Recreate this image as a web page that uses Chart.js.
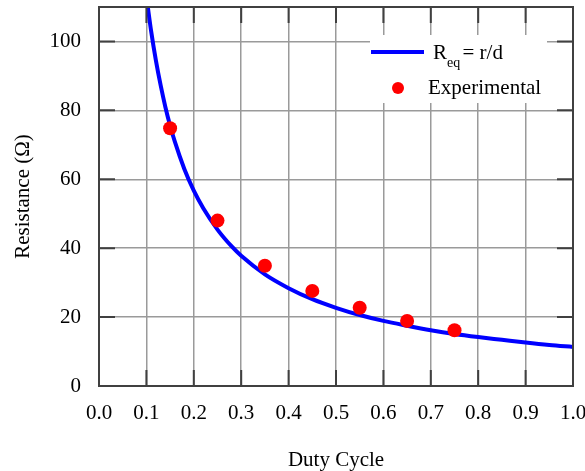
<!DOCTYPE html>
<html>
<head>
<meta charset="utf-8">
<script src="https://cdn.jsdelivr.net/npm/chart.js@4.4.1/dist/chart.umd.min.js"></script>
<style>
  html, body { margin: 0; padding: 0; background: #fff; }
  #wrap { width: 585px; height: 471px; position: relative; }
</style>
</head>
<body>
<div id="wrap"><canvas id="myChart" width="585" height="471"></canvas></div>
<script>
// experimental points
var dutyExp = [0.15, 0.25, 0.35, 0.45, 0.55, 0.65, 0.75];
var resExp = [74.8, 48.0, 34.9, 27.6, 22.7, 18.9, 16.2];

// model curve Req = r/d
var dutyFit = [0.102, 0.11, 0.12, 0.13, 0.14, 0.15, 0.16, 0.18, 0.2, 0.22, 0.25, 0.28, 0.3, 0.35,
               0.4, 0.45, 0.5, 0.55, 0.6, 0.65, 0.7, 0.75, 0.8, 0.85, 0.9, 0.95, 1.0];
var resFit = [111, 103, 94.5, 87.3, 81, 75.6, 70.9, 63, 56.7, 51.6, 45.4, 40.5, 37.8, 32.4,
              28.4, 25.2, 22.7, 20.6, 18.9, 17.5, 16.2, 15.1, 14.2, 13.4, 12.6, 11.9, 11.35];

var xTicks = [0, 0.1, 0.2, 0.3, 0.4, 0.5, 0.6, 0.7, 0.8, 0.9, 1.0];
var yTicks = [0, 20, 40, 60, 80, 100];

var fitLabel = ['R', 'eq', ' = r/d'];
var expLabel = 'Experimental';

var serif = "'Liberation Serif', 'Times New Roman', serif";

function toXY(xs, ys) {
    return xs.map(function (x, i) { return {x: x, y: ys[i]}; });
}

// frame, inward ticks and the legend box
var framePlugin = {
    id: 'frame',
    afterDraw: function (chart) {
        var ctx = chart.ctx;
        var a = chart.chartArea;
        var xs = chart.scales.x, ys = chart.scales.y;
        ctx.save();
        ctx.strokeStyle = '#404040';
        ctx.lineWidth = 2;
        ctx.beginPath();
        xTicks.forEach(function (t) {
            var px = xs.getPixelForValue(t);
            ctx.moveTo(px, a.bottom); ctx.lineTo(px, a.bottom - 16);
            ctx.moveTo(px, a.top); ctx.lineTo(px, a.top + 16);
        });
        yTicks.forEach(function (t) {
            var py = ys.getPixelForValue(t);
            ctx.moveTo(a.left, py); ctx.lineTo(a.left + 16, py);
            ctx.moveTo(a.right, py); ctx.lineTo(a.right - 16, py);
        });
        ctx.stroke();
        ctx.strokeRect(a.left, a.top, a.right - a.left, a.bottom - a.top);

        // legend
        var lx = a.right - 203, ly = a.top + 28;
        ctx.fillStyle = '#fff';
        ctx.fillRect(lx, ly, 177, 68);
        ctx.strokeStyle = '#0000ff';
        ctx.lineWidth = 4;
        ctx.beginPath();
        ctx.moveTo(lx + 1, ly + 17);
        ctx.lineTo(lx + 54, ly + 17);
        ctx.stroke();
        ctx.fillStyle = '#000';
        ctx.textBaseline = 'alphabetic';
        ctx.font = '21px ' + serif;
        ctx.fillText(fitLabel[0], lx + 63, ly + 24);
        var w = ctx.measureText(fitLabel[0]).width;
        ctx.font = '14px ' + serif;
        ctx.fillText(fitLabel[1], lx + 63 + w, ly + 32);
        var w2 = ctx.measureText(fitLabel[1]).width;
        ctx.font = '21px ' + serif;
        ctx.fillText(fitLabel[2], lx + 63 + w + w2 - 3, ly + 24);
        ctx.fillStyle = '#ff0000';
        ctx.beginPath();
        ctx.arc(lx + 28, ly + 53, 6, 0, Math.PI * 2);
        ctx.fill();
        ctx.fillStyle = '#000';
        ctx.fillText(expLabel, lx + 58, ly + 59);
        ctx.restore();
    }
};

var ctx = document.getElementById('myChart').getContext('2d');
var myChart = new Chart(ctx, {
    type: 'scatter',
    data: {
        datasets: [{
            label: expLabel,
            data: toXY(dutyExp, resExp),
            backgroundColor: '#ff0000',
            borderColor: '#ff0000',
            pointRadius: 7,
            pointBorderWidth: 0,
            order: 0
        }, {
            label: 'Req = r/d',
            data: toXY(dutyFit, resFit),
            showLine: true,
            borderColor: '#0000ff',
            borderWidth: 4,
            pointRadius: 0,
            cubicInterpolationMode: 'monotone',
            order: 1
        }]
    },
    options: {
        responsive: false,
        animation: false,
        layout: { padding: { top: 7, right: 12, left: 0, bottom: 0 } },
        plugins: {
            legend: { display: false },
            tooltip: { enabled: false }
        },
        scales: {
            x: {
                type: 'linear',
                min: 0,
                max: 1,
                afterBuildTicks: function (scale) {
                    scale.ticks = xTicks.map(function (v) { return {value: v}; });
                },
                afterFit: function (scale) {
                    scale.height = 85;
                    scale.paddingLeft = 0;
                    scale.paddingRight = 0;
                },
                grid: { color: '#9a9a9a', lineWidth: 1.5, drawTicks: false },
                border: { display: false },
                ticks: {
                    color: '#000',
                    font: { family: serif, size: 21 },
                    padding: 15,
                    maxRotation: 0,
                    callback: function (v) { return v.toFixed(1); }
                },
                title: {
                    display: true,
                    text: 'Duty Cycle',
                    color: '#000',
                    font: { family: serif, size: 21 },
                    padding: { top: 0, bottom: -2 }
                }
            },
            y: {
                min: 0,
                max: 110,
                afterBuildTicks: function (scale) {
                    scale.ticks = yTicks.map(function (v) { return {value: v}; });
                },
                afterFit: function (scale) {
                    scale.width = 99;
                    scale.paddingTop = 0;
                    scale.paddingBottom = 0;
                },
                grid: { color: '#9a9a9a', lineWidth: 1.5, drawTicks: false },
                border: { display: false },
                ticks: {
                    color: '#000',
                    font: { family: serif, size: 21 },
                    padding: 18
                },
                title: {
                    display: true,
                    text: 'Resistance (Ω)',
                    color: '#000',
                    font: { family: serif, size: 21 },
                    padding: { top: 11, bottom: 0 }
                }
            }
        }
    },
    plugins: [framePlugin]
});
</script>
</body>
</html>
